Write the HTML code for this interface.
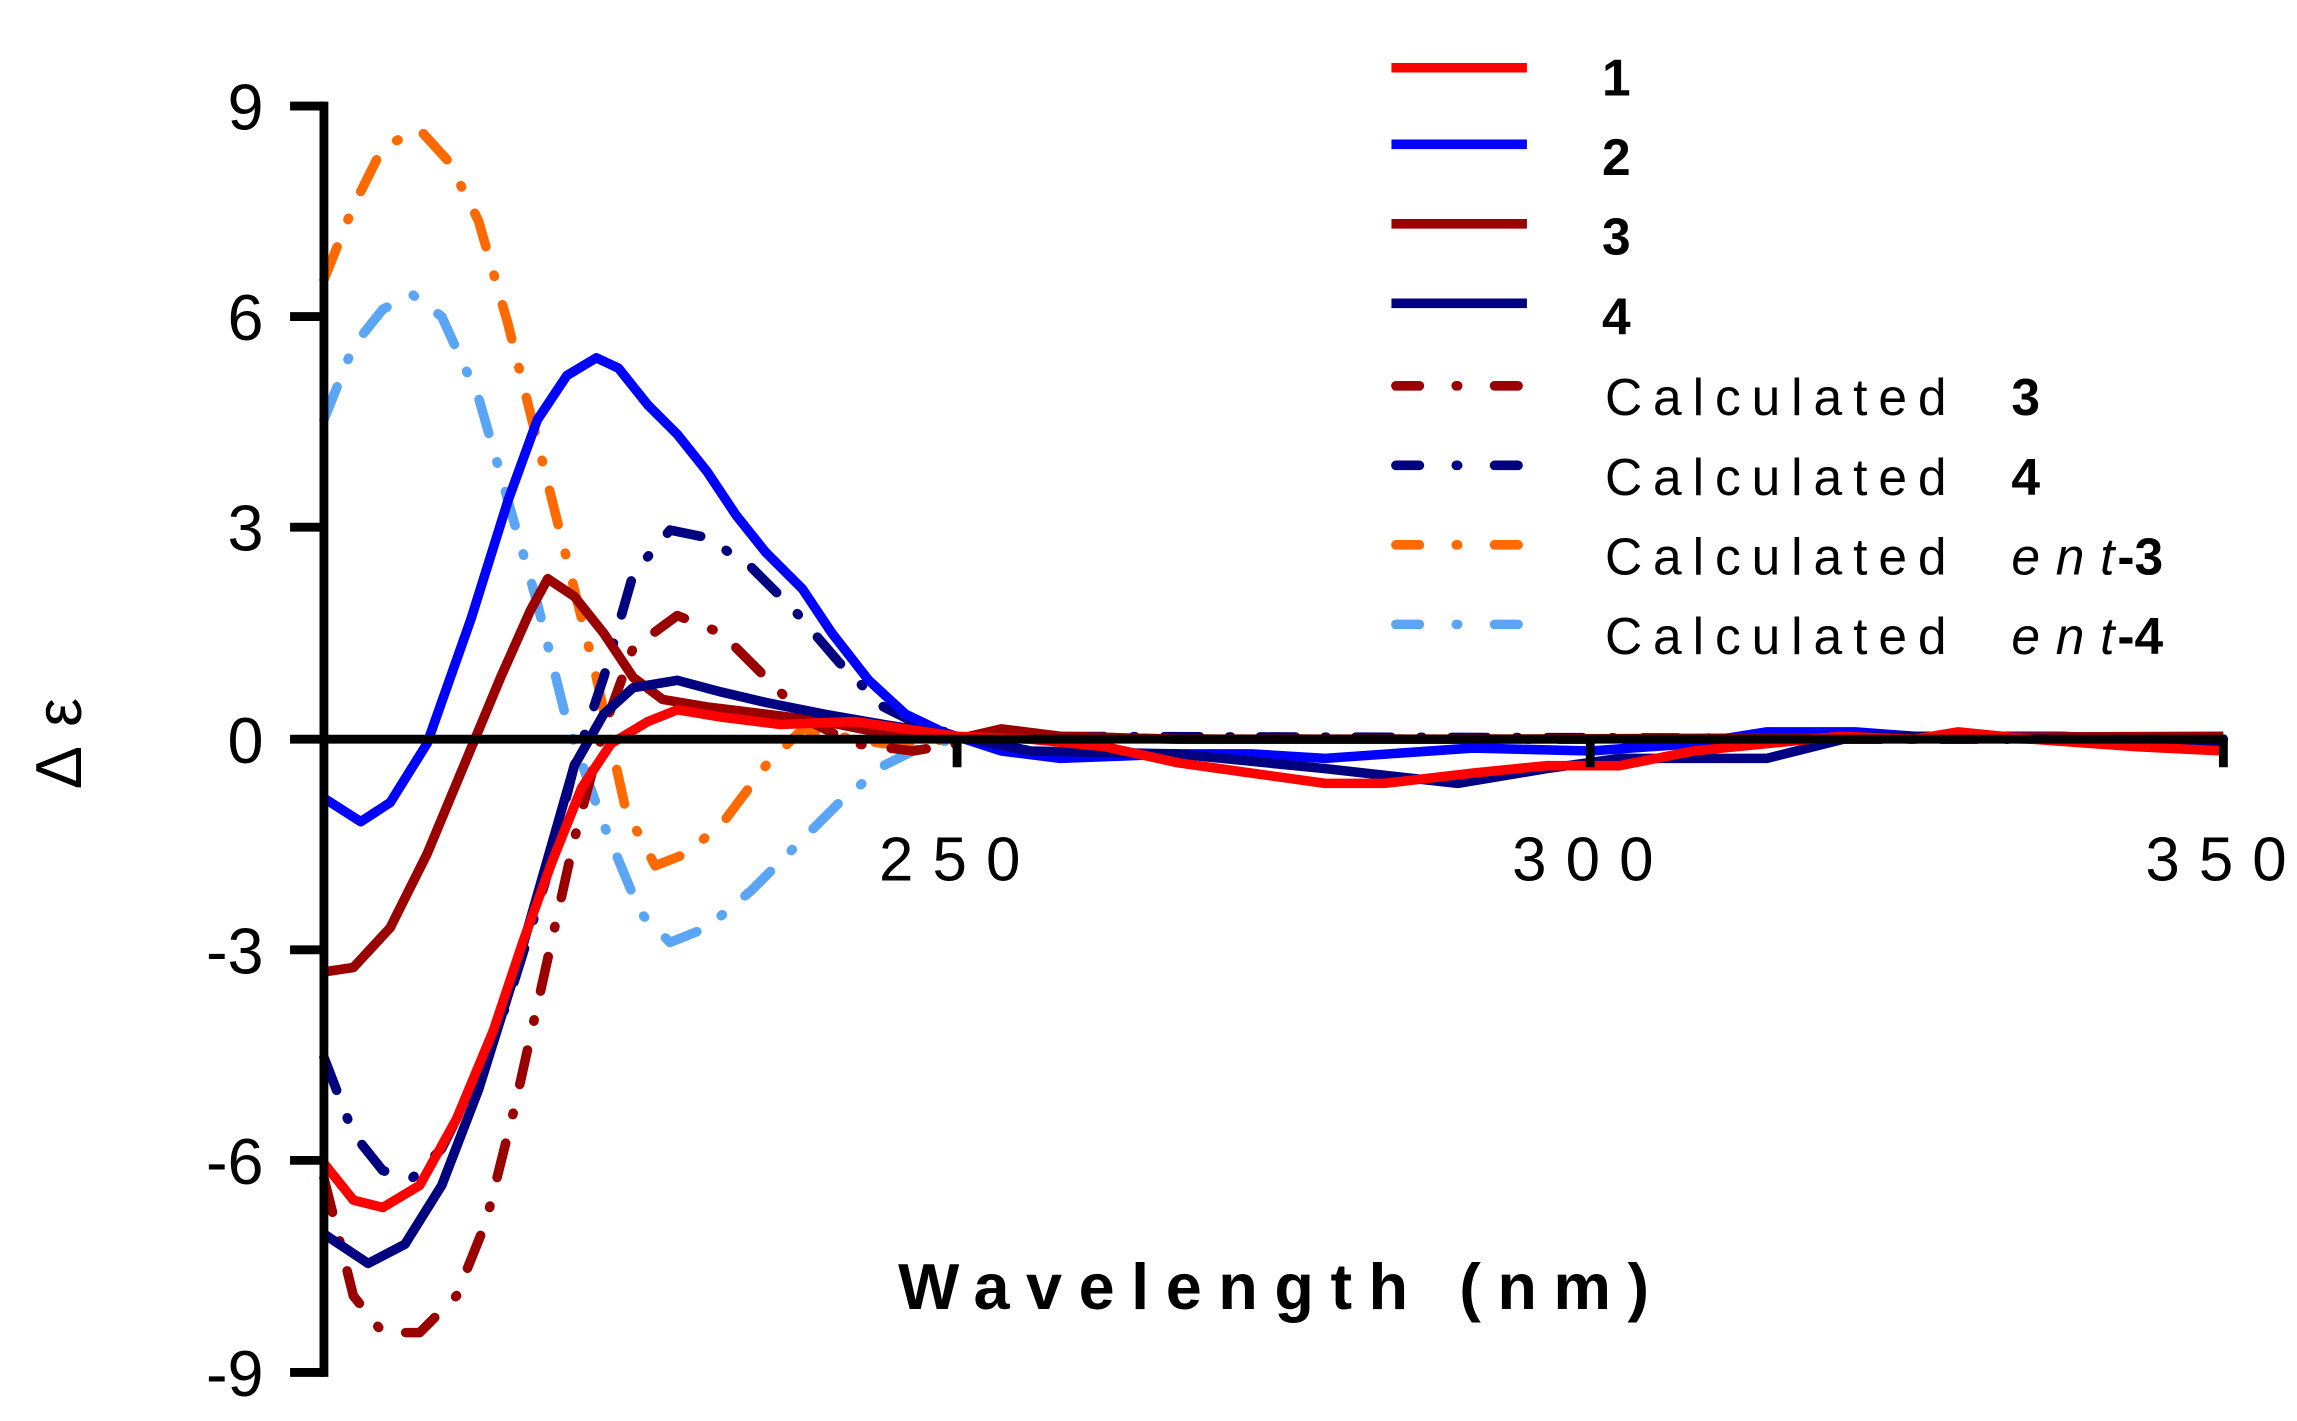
<!DOCTYPE html>
<html><head><meta charset="utf-8"><style>html,body{margin:0;padding:0;background:#fff}svg{display:block}</style></head>
<body>
<svg width="2297" height="1421" viewBox="0 0 1560 965" preserveAspectRatio="none" xmlns="http://www.w3.org/2000/svg" font-family="Liberation Sans, Arial, sans-serif">
<rect width="1560" height="965" fill="#fff"/>
<g fill="none" stroke-width="6.5" stroke-linejoin="round">
<g stroke-dasharray="24 20 1 20" stroke-linecap="round">
<path stroke="#ff6a00" d="M220,190 L240,140 260,100 285,88 305,110 325,150 345,220 365,300 385,380 405,460 425,550 445,588 465,580 490,560 520,520 545,495 570,500 600,505 650,502"/>
<path stroke="#5aa5f5" d="M220,285 L240,235 260,210 280,200 300,215 325,270 345,340 365,410 385,490 410,560 435,620 455,640 480,630 510,605 540,575 570,545 600,520 630,505 650,502"/>
<path stroke="#9b0000" d="M220,800 L240,880 260,905 285,905 310,880 330,830 350,750 370,660 390,570 410,495 430,440 460,418 490,430 520,460 550,490 580,505 620,510 650,505 680,497 720,500 800,502 1510,502"/>
<path stroke="#000080" d="M220,718 L240,770 260,795 280,800 300,780 320,740 345,680 370,600 390,520 410,460 430,390 455,360 480,365 510,385 540,415 570,450 600,480 630,495 660,500 1510,502"/>
</g>
<path stroke="#0000ff" d="M220,542 L245,558 265,545 290,505 320,420 345,340 365,285 385,255 405,243 420,250 440,275 460,295 480,320 500,350 520,375 545,400 565,430 590,462 615,485 640,497 680,510 720,515 800,512 850,512 900,515 1000,508 1080,510 1150,505 1200,497 1260,497 1300,500 1400,500 1510,505"/>
<path stroke="#9b0000" d="M220,660 L240,657 265,630 290,580 315,520 340,460 360,415 372,393 390,405 410,430 430,460 450,475 480,480 520,485 560,490 600,498 650,502 680,495 720,500 800,502 1000,502 1510,500"/>
<path stroke="#000080" d="M220,838 L250,858 275,845 300,805 325,740 350,660 370,590 390,520 410,485 430,467 460,462 490,470 520,477 560,485 600,492 650,500 700,510 800,512 900,522 990,532 1050,522 1100,515 1200,515 1260,500 1300,500 1510,505"/>
<path stroke="#ff0000" d="M220,790 L240,815 260,820 285,805 310,760 335,700 355,640 375,585 395,535 415,505 440,490 460,482 490,487 530,492 580,490 650,500 700,502 750,507 800,518 850,525 900,532 940,532 1000,525 1050,520 1100,520 1150,510 1200,505 1250,500 1300,502 1330,497 1380,502 1450,507 1510,510"/>
</g>
<g stroke="#000" stroke-width="6" fill="none">
<path d="M220,69 V935"/>
<path d="M217,502 H1512"/>
<path d="M197,72 H220 M197,215 H220 M197,358 H220 M197,502 H220 M197,645 H220 M197,788 H220 M197,932 H220"/>
<path d="M650,502 V521 M1080,502 V521 M1510,502 V521"/>
</g>
<g font-size="44" fill="#000" text-anchor="end">
<text x="179" y="88">9</text><text x="179" y="231">6</text><text x="179" y="374">3</text><text x="179" y="518">0</text>
<text x="179" y="661">-3</text><text x="179" y="804">-6</text><text x="179" y="948">-9</text>
</g>
<g font-size="42" fill="#000">
<text x="597" y="598" textLength="96">250</text><text x="1027" y="598" textLength="96">300</text><text x="1457" y="598" textLength="96">350</text>
</g>
<text x="610" y="889" font-size="44" font-weight="bold" textLength="510">Wavelength (nm)</text>
<text transform="translate(55,505) rotate(-90)" font-size="44" text-anchor="middle" textLength="62">Δ ε</text>
<g stroke-width="6.5" fill="none">
<path stroke="#ff0000" d="M945,46 H1037"/><path stroke="#0000ff" d="M945,98 H1037"/>
<path stroke="#9b0000" d="M945,152 H1037"/><path stroke="#000080" d="M945,206 H1037"/>
<g stroke-linecap="round" stroke-dasharray="16 25 1 25">
<path stroke="#9b0000" d="M948,262 H1034"/><path stroke="#000080" d="M948,316 H1034"/>
<path stroke="#ff6a00" d="M948,370 H1034"/><path stroke="#5aa5f5" d="M948,424 H1034"/>
</g>
</g>
<g font-size="35" fill="#000">
<text x="1088" y="65" font-weight="bold">1</text><text x="1088" y="119" font-weight="bold">2</text>
<text x="1088" y="173" font-weight="bold">3</text><text x="1088" y="227" font-weight="bold">4</text>
<text x="1090" y="282" textLength="232">Calculated</text><text x="1366" y="282" font-weight="bold">3</text>
<text x="1090" y="336" textLength="232">Calculated</text><text x="1366" y="336" font-weight="bold">4</text>
<text x="1090" y="390" textLength="232">Calculated</text><text x="1366" y="390" font-style="italic" textLength="70">ent</text><text x="1438" y="390" font-weight="bold">-3</text>
<text x="1090" y="444" textLength="232">Calculated</text><text x="1366" y="444" font-style="italic" textLength="70">ent</text><text x="1438" y="444" font-weight="bold">-4</text>
</g>
</svg>
</body></html>
